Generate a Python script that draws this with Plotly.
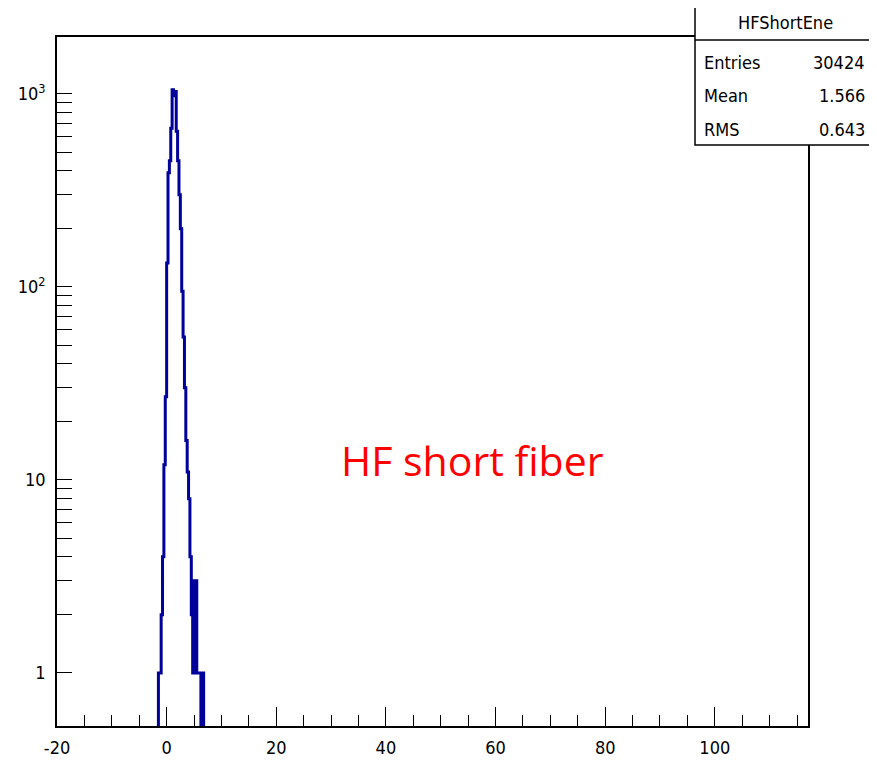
import plotly.graph_objects as go

# ---- data ----
bin_start = -1.5
bin_width = 0.25
counts = [1, 1, 2, 4, 12, 27, 133, 390, 450, 665, 1050, 980, 1030, 640, 450,
          300, 200, 95, 55, 30, 16, 11, 8, 4, 2, 1, 3, 3, 1, 1, 1, 0, 1]

x_ticks = [-20, 0, 20, 40, 60, 80, 100]
x_tick_labels = ["-20", "0", "20", "40", "60", "80", "100"]
y_decades = [1, 10, 100, 1000]
y_decade_labels = ["1", "10", "10<sup>2</sup>", "10<sup>3</sup>"]

stats_title = "HFShortEne"
stats_names = ["Entries", "Mean", "RMS"]
stats_values = ["30424", "1.566", "0.643"]
annotation_text = "HF short fiber"

# ---- build step outline ----
floor = 1e-2
edges = [bin_start + i * bin_width for i in range(len(counts) + 1)]
xs = [edges[0]]
ys = [floor]
for i, c in enumerate(counts):
    v = c if c > 0 else floor
    xs += [edges[i], edges[i + 1]]
    ys += [v, v]
xs.append(edges[-1])
ys.append(floor)

fig = go.Figure()
fig.add_trace(go.Scatter(x=xs, y=ys, mode="lines",
                         line=dict(color="#00009a", width=3),
                         hoverinfo="skip", showlegend=False))

# y tick values: decades plus 2..9 minors (blank labels)
yvals, ytext = [], []
for d, lab in zip(y_decades, y_decade_labels):
    for m in range(1, 10):
        yvals.append(d * m)
        ytext.append(lab if m == 1 else "")

# page body has an 8px margin: shrink the figure so it ends at the window edge
OFF = 8
W, H = 877 - OFF, 762 - OFF
L, R, T, B = 57, 808, 37, 726          # plot area in window pixels
pw, ph = R - L, B - T


def px(xp):
    return (xp - L) / pw


def py(yp):
    return (B - yp) / ph


tick_font = dict(family="DejaVu Sans Condensed, Liberation Sans", size=18, color="black")

fig.update_layout(
    width=W, height=H,
    margin=dict(l=L - OFF, r=(W + OFF) - R, t=T - OFF, b=(H + OFF) - B, autoexpand=False),
    paper_bgcolor="white", plot_bgcolor="white",
    xaxis=dict(range=[-20, 117], tickvals=x_ticks, ticktext=x_tick_labels,
               ticks="inside", ticklen=19, automargin=False,
               tickwidth=1.3, tickcolor="black", showgrid=False, zeroline=False,
               showline=True, linecolor="black", linewidth=1.8, mirror=True,
               tickfont=tick_font, ticklabelstandoff=4,
               minor=dict(dtick=5, tick0=0, ticks="inside", ticklen=11,
                          tickwidth=1.3, tickcolor="black", showgrid=False)),
    yaxis=dict(type="log", range=[-0.275, 3.295], tickvals=yvals, ticktext=ytext,
               ticks="inside", ticklen=15, tickwidth=1.3, tickcolor="black",
               automargin=False,
               showgrid=False, zeroline=False, showline=True, linecolor="black",
               linewidth=1.8, mirror=True, tickfont=tick_font, ticklabelstandoff=6),
)

# stats box
bx0, bx1, by0, by1 = 695, 875, 3, 145
fig.add_shape(type="rect", xref="paper", yref="paper",
              x0=px(bx0), x1=px(bx1), y0=py(by1), y1=py(by0),
              fillcolor="white", line=dict(color="black", width=1.5), layer="above")
fig.add_shape(type="line", xref="paper", yref="paper",
              x0=px(bx0), x1=px(bx1), y0=py(40), y1=py(40),
              line=dict(color="black", width=1.5), layer="above")

stats_font = dict(family="DejaVu Sans Condensed, Liberation Sans", size=18, color="black")
fig.add_annotation(x=px(785), y=py(22), xref="paper", yref="paper", text=stats_title,
                   showarrow=False, font=stats_font, xanchor="center", yanchor="middle")
row_y = [62, 96, 129]
for name, val, ry in zip(stats_names, stats_values, row_y):
    fig.add_annotation(x=px(702), y=py(ry), xref="paper", yref="paper", text=name,
                       showarrow=False, font=stats_font, xanchor="left", yanchor="middle")
    fig.add_annotation(x=px(867), y=py(ry), xref="paper", yref="paper", text=val,
                       showarrow=False, font=stats_font, xanchor="right", yanchor="middle")

fig.add_annotation(x=px(473), y=py(460), xref="paper", yref="paper", text=annotation_text,
                   showarrow=False, font=dict(family="Open Sans, Noto Sans", size=41, color="#ff0000"),
                   xanchor="center", yanchor="middle")

fig.write_html("out.html")
